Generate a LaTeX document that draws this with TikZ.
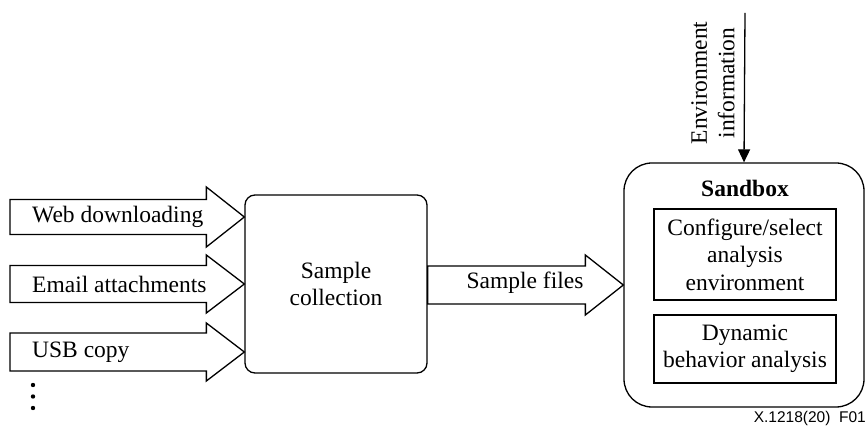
\documentclass[tikz,border=0pt]{standalone}
\usepackage{fontspec}
\setmainfont{Liberation Serif}
\setsansfont{Liberation Sans}
\usetikzlibrary{calc,arrows.meta}

\tikzset{
  lw/.style={line width=1.3pt, draw=black},
  txt/.style={font=\fontsize{23.5}{27.5}\selectfont, align=center, inner sep=0pt},
  roundbox/.style={lw, rounded corners=#1},
  plainbox/.style={lw},
  blockline/.style={lw, line join=miter, fill=white},
}

% horizontal block arrow from coordinate #1 to the point #2 (tip)
% #3 = half shaft width, #4 = half head width, #5 = head length
\newcommand\blockarrow[5]{%
  \draw[blockline] let \p1=(#1), \p2=(#2) in
    (\x1,\y2+#3) -- (\x2-#5,\y2+#3) -- (\x2-#5,\y2+#4) -- (\x2,\y2)
    -- (\x2-#5,\y2-#4) -- (\x2-#5,\y2-#3) -- (\x1,\y2-#3) -- cycle;}

\begin{document}
\begin{tikzpicture}[x=1pt,y=-1pt]
  \useasboundingbox (0,0) rectangle (867,427);

  % sample collection box
  \node[roundbox=10pt, minimum width=182pt, minimum height=178pt, txt]
    (coll) at (336,284) {Sample\\collection};

  % sandbox with its two stages
  \node[roundbox=28pt, minimum width=240pt, minimum height=244pt]
    (sandbox) at (744,285) {};
  \node[txt, font=\fontsize{23.5}{27.5}\selectfont\bfseries] (sbtitle) at (745,188) {Sandbox};
  \node[plainbox, minimum width=182pt, minimum height=91pt, txt]
    (config) at (745,254.5) {Configure/select\\analysis\\environment};
  \node[plainbox, minimum width=182pt, minimum height=68pt, txt]
    (dynamic) at (745,349) {Dynamic\\behavior analysis};

  % sample sources
  \coordinate (web) at (10,217);
  \coordinate (mail) at (10,284);
  \coordinate (usb) at (10,352);
  \blockarrow{web}{coll.west |- web}{17.5pt}{30pt}{38pt}
  \blockarrow{mail}{coll.west |- mail}{18.5pt}{29pt}{38pt}
  \blockarrow{usb}{coll.west |- usb}{19pt}{29pt}{38pt}
  \node[txt, anchor=west] (webtxt) at (32,217) {Web downloading};
  \node[txt, anchor=west] (mailtxt) at (32,284) {Email attachments};
  \node[txt, anchor=west] (usbtxt) at (32,352) {USB copy};

  % further sources
  \foreach \yy [count=\i] in {385,396.5,408}
    \fill (33,\yy) circle (2.2pt);

  % sample files to the sandbox
  \blockarrow{coll.east}{sandbox.west}{19pt}{30pt}{38pt}
  \node[txt] (filestxt) at (525,283) {Sample files};

  % environment information input
  \coordinate (envtop) at (745,13);
  \draw[lw, -{Triangle[length=13pt,width=12pt]}] (envtop) -- (sandbox.north);
  \node[txt, rotate=90] (envtxt) at (713,83) {Environment\\information};

  % figure reference
  \node[font=\sffamily\fontsize{15.5}{18}\selectfont, anchor=east, inner sep=0pt]
    (figref) at (866,418) {X.1218(20)\ \ F01};
\end{tikzpicture}
\end{document}
